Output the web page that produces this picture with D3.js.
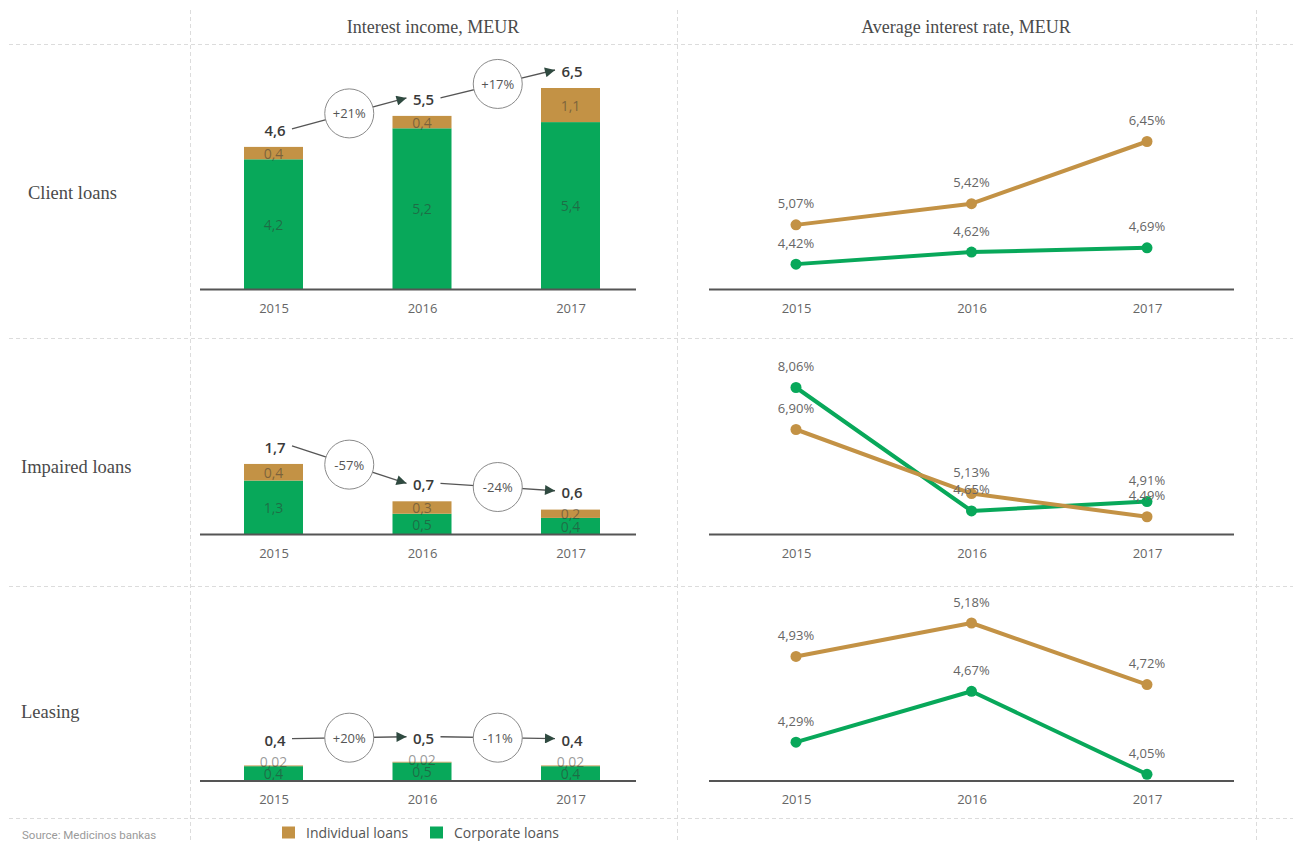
<!DOCTYPE html>
<html>
<head>
<meta charset="utf-8">
<script src="https://cdn.jsdelivr.net/npm/d3@7"></script>
<style>
  html, body { margin: 0; padding: 0; background: #fff; }
  svg { display: block; }
</style>
</head>
<body>
<svg id="chart" width="1293" height="841"></svg>
<script>
// ---------------- DATA ----------------
const years = ["2015", "2016", "2017"];
const rowLabels = ["Client loans", "Impaired loans", "Leasing"];
const columnTitles = ["Interest income, MEUR", "Average interest rate, MEUR"];
const legendLabels = ["Individual loans", "Corporate loans"];
const sourceText = "Source: Medicinos bankas";

// Interest income (MEUR) per row: [2015, 2016, 2017]
const corporateIncome = [[4.2, 5.2, 5.4], [1.3, 0.5, 0.4], [0.4, 0.5, 0.4]];
const individualIncome = [[0.4, 0.4, 1.1], [0.4, 0.3, 0.2], [0.02, 0.02, 0.02]];
const totalIncome = [[4.6, 5.5, 6.5], [1.7, 0.7, 0.6], [0.4, 0.5, 0.4]];
const changeLabels = [["+21%", "+17%"], ["-57%", "-24%"], ["+20%", "-11%"]];

// Average interest rate (%) per row
const individualRate = [[5.07, 5.42, 6.45], [6.90, 5.13, 4.49], [4.93, 5.18, 4.72]];
const corporateRate = [[4.42, 4.62, 4.69], [8.06, 4.65, 4.91], [4.29, 4.67, 4.05]];

// ---------------- LAYOUT / STYLE ----------------
const GOLD = "#C39245";
const GREEN = "#08A85A";
const rowAxisY = [289.5, 534.5, 781];
const barDomainMax = [7, 2, 1];
const barRangeH = [217, 83, 37];
const rateRangeH = [148, 147, 158];
const barWidth = 59;
const numFont = "'Open Sans', 'Noto Sans', sans-serif";
const serifFont = "'Liberation Serif', 'DejaVu Serif', serif";
const comma = v => String(v).replace(".", ",");
const pct = v => d3.format(".2f")(v).replace(".", ",") + "%";

const svg = d3.select("#chart");

// ---------------- GRID ----------------
const grid = svg.append("g")
  .attr("stroke", "#dcdcdc").attr("stroke-width", 1).attr("stroke-dasharray", "4,3");
[190, 677, 1256].forEach(x =>
  grid.append("line").attr("x1", x + 0.5).attr("x2", x + 0.5).attr("y1", 10).attr("y2", 841));
[44, 338, 586, 818].forEach(y =>
  grid.append("line").attr("x1", 9).attr("x2", 1293).attr("y1", y + 0.5).attr("y2", y + 0.5));

// ---------------- TITLES ----------------
[[433, columnTitles[0]], [966, columnTitles[1]]].forEach(([x, t]) =>
  svg.append("text").attr("x", x).attr("y", 27).attr("text-anchor", "middle")
    .attr("dominant-baseline", "central")
    .style("font-family", serifFont).style("font-size", "18px").attr("fill", "#4a4a4a").text(t));

const rowLabelX = [28, 21, 21];
const rowLabelY = [193, 467, 712];
rowLabels.forEach((t, i) =>
  svg.append("text").attr("x", rowLabelX[i]).attr("y", rowLabelY[i])
    .attr("dominant-baseline", "central")
    .style("font-family", serifFont).style("font-size", "18.5px").attr("fill", "#4a4a4a").text(t));

// ---------------- SCALES ----------------
const xBar = d3.scalePoint().domain(years).range([273.5, 570.5]);
const xLine = d3.scalePoint().domain(years).range([796, 1147]);

// arrow marker
const defs = svg.append("defs");
defs.append("marker").attr("id", "arrow")
  .attr("viewBox", "0 0 10 10").attr("refX", 10).attr("refY", 5)
  .attr("markerWidth", 11).attr("markerHeight", 10).attr("markerUnits", "userSpaceOnUse")
  .attr("orient", "auto")
  .append("path").attr("d", "M0,0 L10,5 L0,10 Z").attr("fill", "#2f4a40");

rowLabels.forEach((_, r) => {
  const axisY = rowAxisY[r];

  // ===== BAR PANEL =====
  const yBar = d3.scaleLinear().domain([0, barDomainMax[r]]).range([axisY, axisY - barRangeH[r]]);
  const gB = svg.append("g");

  const barData = years.map((yr, i) => ({
    yr, corp: corporateIncome[r][i], ind: individualIncome[r][i], total: totalIncome[r][i]
  }));

  gB.selectAll("rect.corp").data(barData).join("rect")
    .attr("x", d => xBar(d.yr) - barWidth / 2).attr("width", barWidth)
    .attr("y", d => yBar(d.corp)).attr("height", d => yBar(0) - yBar(d.corp))
    .attr("fill", GREEN);
  gB.selectAll("rect.ind").data(barData).join("rect")
    .attr("x", d => xBar(d.yr) - barWidth / 2).attr("width", barWidth)
    .attr("y", d => yBar(d.corp + d.ind)).attr("height", d => yBar(d.corp) - yBar(d.corp + d.ind))
    .attr("fill", GOLD);

  // segment labels
  barData.forEach(d => {
    const greenMid = (yBar(0) + yBar(d.corp)) / 2;
    const goldMid = Math.min((yBar(d.corp) + yBar(d.corp + d.ind)) / 2, greenMid - 12);
    d.greenMid = greenMid; d.goldMid = goldMid;
    d.top = yBar(d.corp + d.ind);
    d.labelY = Math.min(d.top - 17, goldMid - 22);
    d.labelX = xBar(d.yr) + 1.5;
  });
  gB.selectAll("text.g").data(barData).join("text")
    .attr("x", d => xBar(d.yr)).attr("y", d => d.greenMid)
    .attr("text-anchor", "middle").attr("dominant-baseline", "central")
    .style("font-family", numFont).style("font-size", "14px")
    .attr("fill", "#333").attr("fill-opacity", 0.5).text(d => comma(d.corp));
  gB.selectAll("text.o").data(barData).join("text")
    .attr("x", d => xBar(d.yr)).attr("y", d => d.goldMid)
    .attr("text-anchor", "middle").attr("dominant-baseline", "central")
    .style("font-family", numFont).style("font-size", "14px")
    .attr("fill", "#333").attr("fill-opacity", 0.5).text(d => comma(d.ind));

  // arrows + change circles
  for (let i = 0; i < years.length - 1; i++) {
    const a = barData[i], b = barData[i + 1];
    const x1 = a.labelX + 17, y1 = a.labelY - 1;
    const x2 = b.labelX - 17, y2 = b.labelY - 1;
    gB.append("line").attr("x1", x1).attr("y1", y1).attr("x2", x2).attr("y2", y2)
      .attr("stroke", "#555").attr("stroke-width", 1.3).attr("marker-end", "url(#arrow)");
    const cx = (x1 + x2) / 2, cy = (y1 + y2) / 2;
    gB.append("circle").attr("cx", cx).attr("cy", cy).attr("r", 24.5)
      .attr("fill", "#fff").attr("stroke", "#8a8a8a").attr("stroke-width", 1);
    gB.append("text").attr("x", cx).attr("y", cy)
      .attr("text-anchor", "middle").attr("dominant-baseline", "central")
      .style("font-family", numFont).style("font-size", "13px").attr("fill", "#555")
      .text(changeLabels[r][i]);
  }

  // totals
  gB.selectAll("text.t").data(barData).join("text")
    .attr("x", d => d.labelX).attr("y", d => d.labelY)
    .attr("text-anchor", "middle").attr("dominant-baseline", "central")
    .style("font-family", numFont).style("font-size", "15px").style("font-weight", 600)
    .attr("fill", "#3a3a3a").text(d => comma(d.total));

  // axis
  gB.append("line").attr("x1", 200).attr("x2", 636).attr("y1", axisY).attr("y2", axisY)
    .attr("stroke", "#555").attr("stroke-width", 2);
  const axB = gB.append("g").attr("transform", `translate(0,${axisY})`)
    .call(d3.axisBottom(xBar).tickSize(0).tickPadding(14));
  axB.select(".domain").remove();
  axB.selectAll("text").style("font-family", numFont).style("font-size", "13px").attr("fill", "#666");

  // ===== LINE PANEL =====
  const allRates = individualRate[r].concat(corporateRate[r]);
  const yLine = d3.scaleLinear().domain([4, d3.max(allRates)]).range([axisY, axisY - rateRangeH[r]]);
  const gL = svg.append("g");

  gL.append("line").attr("x1", 709).attr("x2", 1234).attr("y1", axisY).attr("y2", axisY)
    .attr("stroke", "#555").attr("stroke-width", 2);
  const axL = gL.append("g").attr("transform", `translate(0,${axisY})`)
    .call(d3.axisBottom(xLine).tickSize(0).tickPadding(14));
  axL.select(".domain").remove();
  axL.selectAll("text").style("font-family", numFont).style("font-size", "13px").attr("fill", "#666");

  const series = [
    { color: GREEN, values: corporateRate[r] },
    { color: GOLD, values: individualRate[r] }
  ];
  const lineGen = d3.line().x((d, i) => xLine(years[i])).y(d => yLine(d));
  series.forEach(s => {
    gL.append("path").attr("d", lineGen(s.values)).attr("fill", "none")
      .attr("stroke", s.color).attr("stroke-width", 4).attr("stroke-linejoin", "round");
    gL.selectAll(null).data(s.values).join("circle")
      .attr("cx", (d, i) => xLine(years[i])).attr("cy", d => yLine(d)).attr("r", 5.5)
      .attr("fill", s.color);
  });
  series.forEach(s => {
    gL.selectAll(null).data(s.values).join("text")
      .attr("x", (d, i) => xLine(years[i])).attr("y", d => yLine(d) - 21.5)
      .attr("text-anchor", "middle").attr("dominant-baseline", "central")
      .style("font-family", numFont).style("font-size", "13px").attr("fill", "#666")
      .text(d => pct(d));
  });
});

// ---------------- LEGEND ----------------
const legend = svg.append("g");
const legendColors = [GOLD, GREEN];
const legendX = [282, 430];
legendLabels.forEach((t, i) => {
  legend.append("rect").attr("x", legendX[i]).attr("y", 826.5).attr("width", 13).attr("height", 12)
    .attr("fill", legendColors[i]);
  legend.append("text").attr("x", legendX[i] + 24).attr("y", 832)
    .attr("dominant-baseline", "central")
    .style("font-family", numFont).style("font-size", "14px").attr("fill", "#555").text(t);
});

svg.append("text").attr("x", 22).attr("y", 835).attr("dominant-baseline", "central")
  .style("font-family", "Roboto, 'Liberation Sans', sans-serif").style("font-size", "11.5px")
  .attr("fill", "#9a9a9a").text(sourceText);
</script>
</body>
</html>
